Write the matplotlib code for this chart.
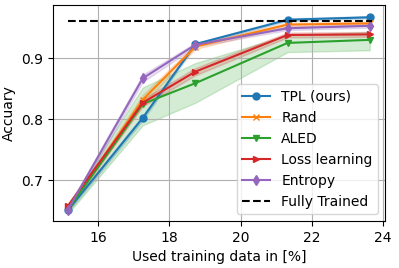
import matplotlib
matplotlib.use("Agg")
import matplotlib.pyplot as plt
import numpy as np

x = [15.15, 17.25, 18.73, 21.32, 23.63]
tpl = [0.651, 0.802, 0.923, 0.963, 0.967]
tpl_sd = [0.003, 0.004, 0.002, 0.002, 0.002]
rand = [0.653, 0.832, 0.919, 0.955, 0.957]
rand_sd = [0.004, 0.008, 0.004, 0.003, 0.003]
aled = [0.652, 0.825, 0.859, 0.925, 0.930]
aled_lo = [0.645, 0.790, 0.827, 0.910, 0.913]
aled_hi = [0.660, 0.852, 0.892, 0.938, 0.943]
loss = [0.658, 0.827, 0.878, 0.938, 0.939]
loss_sd = [0.004, 0.006, 0.006, 0.004, 0.004]
ent = [0.652, 0.867, 0.922, 0.949, 0.953]
ent_sd = [0.004, 0.006, 0.003, 0.003, 0.003]
full = 0.961
full_x = [15.15, 23.7]

plt.rcParams['font.size'] = 10
fig, ax = plt.subplots(figsize=(3.99, 2.68), dpi=100)

def band(y, sd):
    y = np.array(y); sd = np.array(sd)
    return y - sd, y + sd

c = ['#1f77b4', '#ff7f0e', '#2ca02c', '#d62728', '#9467bd']
lo, hi = band(tpl, tpl_sd)
ax.fill_between(x, lo, hi, color=c[0], alpha=0.2)
ax.plot(x, tpl, marker='o', color=c[0], label='TPL (ours)', ms=5)
lo, hi = band(rand, rand_sd)
ax.fill_between(x, lo, hi, color=c[1], alpha=0.2)
ax.plot(x, rand, marker='x', color=c[1], label='Rand', ms=5)
ax.fill_between(x, aled_lo, aled_hi, color=c[2], alpha=0.2)
ax.plot(x, aled, marker='v', color=c[2], label='ALED', ms=5)
lo, hi = band(loss, loss_sd)
ax.fill_between(x, lo, hi, color=c[3], alpha=0.2)
ax.plot(x, loss, marker='>', color=c[3], label='Loss learning', ms=5)
lo, hi = band(ent, ent_sd)
ax.fill_between(x, lo, hi, color=c[4], alpha=0.2)
ax.plot(x, ent, marker='d', color=c[4], label='Entropy', ms=5)
ax.plot(full_x, [full, full], 'k--', label='Fully Trained')

ax.set_xlim(14.73, 24.06)
ax.set_ylim(0.633, 0.987)
ax.set_xticks([16, 18, 20, 22, 24])
ax.set_yticks([0.7, 0.8, 0.9])
ax.grid(True)
ax.set_xlabel('Used training data in [%]')
ax.set_ylabel('Accuary')
ax.legend(loc='lower right')
fig.subplots_adjust(left=0.133, right=0.965, top=0.981, bottom=0.175)
fig.savefig('out.png', dpi=100)
